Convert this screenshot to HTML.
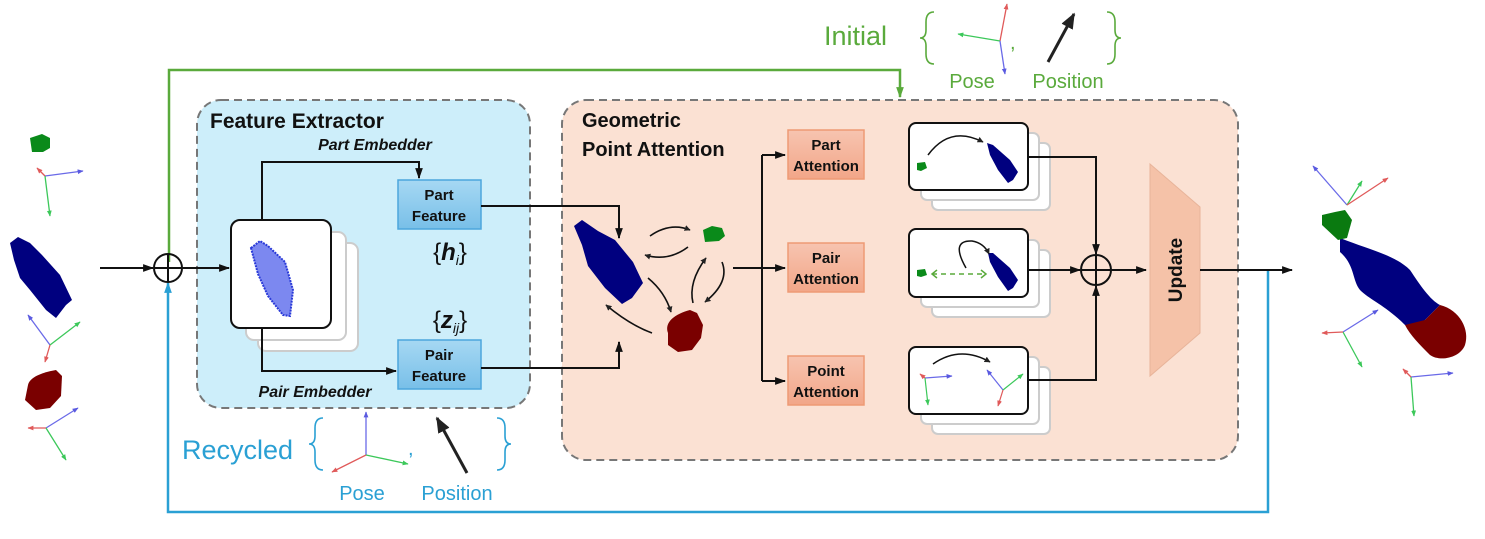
<!DOCTYPE html>
<html><head><meta charset="utf-8"><style>
html,body{margin:0;padding:0;background:#fff;}
svg{display:block;}
text{font-family:"Liberation Sans",Arial,sans-serif;}
</style></head><body>
<svg width="1485" height="539" viewBox="0 0 1485 539" xmlns="http://www.w3.org/2000/svg">
<defs>
<marker id="a" viewBox="0 0 10 10" refX="9" refY="5" markerUnits="userSpaceOnUse" markerWidth="11" markerHeight="11" orient="auto"><path d="M0,1.5 L10,5 L0,8.5 z" fill="#111"/></marker>
<marker id="ag" viewBox="0 0 10 10" refX="9" refY="5" markerUnits="userSpaceOnUse" markerWidth="11" markerHeight="11" orient="auto"><path d="M0,1.5 L10,5 L0,8.5 z" fill="#5aaa3c"/></marker>
<marker id="ab" viewBox="0 0 10 10" refX="9" refY="5" markerUnits="userSpaceOnUse" markerWidth="11" markerHeight="11" orient="auto"><path d="M0,1.5 L10,5 L0,8.5 z" fill="#2aa0d4"/></marker>
<marker id="ar" viewBox="0 0 10 10" refX="9" refY="5" markerUnits="userSpaceOnUse" markerWidth="6" markerHeight="6" orient="auto"><path d="M0,1 L10,5 L0,9 z" fill="#e05a5a"/></marker>
<marker id="agg" viewBox="0 0 10 10" refX="9" refY="5" markerUnits="userSpaceOnUse" markerWidth="6" markerHeight="6" orient="auto"><path d="M0,1 L10,5 L0,9 z" fill="#3cc85a"/></marker>
<marker id="abb" viewBox="0 0 10 10" refX="9" refY="5" markerUnits="userSpaceOnUse" markerWidth="6" markerHeight="6" orient="auto"><path d="M0,1 L10,5 L0,9 z" fill="#5a5ae0"/></marker>
<marker id="ak" viewBox="0 0 10 10" refX="9" refY="5" markerUnits="userSpaceOnUse" markerWidth="6" markerHeight="6" orient="auto"><path d="M0,0 L10,5 L0,10 z" fill="#222"/></marker>
<marker id="abig" viewBox="0 0 10 10" refX="9" refY="5" markerUnits="userSpaceOnUse" markerWidth="16" markerHeight="16" orient="auto"><path d="M0,1 L10,5 L0,9 z" fill="#222"/></marker>
<linearGradient id="bf" x1="0" y1="0" x2="0" y2="1"><stop offset="0" stop-color="#a6d8f3"/><stop offset="1" stop-color="#78bfe8"/></linearGradient>
<linearGradient id="of" x1="0" y1="0" x2="0" y2="1"><stop offset="0" stop-color="#f7c4b0"/><stop offset="1" stop-color="#f2a688"/></linearGradient>
</defs>

<rect x="197" y="100" width="333" height="308" rx="24" fill="#cdeefa" stroke="#777" stroke-width="2" stroke-dasharray="8,5"/>
<rect x="562" y="100" width="676" height="360" rx="24" fill="#fbe1d3" stroke="#777" stroke-width="2" stroke-dasharray="8,5"/>

<polyline points="169,262 169,70 900,70 900,97" fill="none" stroke="#5aaa3c" stroke-width="2.5" marker-end="url(#ag)"/>
<polyline points="1268,270 1268,512 168,512 168,283" fill="none" stroke="#2aa0d4" stroke-width="2.5" marker-end="url(#ab)"/>

<line x1="100" y1="268" x2="153" y2="268" stroke="#111" stroke-width="2" marker-end="url(#a)"/>
<circle cx="168" cy="268" r="14" fill="none" stroke="#111" stroke-width="2"/>
<line x1="154" y1="268" x2="182" y2="268" stroke="#111" stroke-width="2"/>
<line x1="168" y1="254" x2="168" y2="282" stroke="#111" stroke-width="2"/>
<line x1="182" y1="268" x2="229" y2="268" stroke="#111" stroke-width="2" marker-end="url(#a)"/>

<rect x="258" y="243" width="100" height="108" rx="8" fill="#fff" stroke="#ccc" stroke-width="2"/>
<rect x="246" y="232" width="100" height="108" rx="8" fill="#fff" stroke="#ccc" stroke-width="2"/>
<rect x="231" y="220" width="100" height="108" rx="9" fill="#fff" stroke="#111" stroke-width="2"/>
<path d="M251,248 L260,241 L268,246 L285,262 L293,290 L290,316 L283,315 L268,296 L258,274 Z" fill="#7c88f0" stroke="#2a3ad8" stroke-width="2" stroke-dasharray="2,1"/>
<polyline points="262,220 262,162 419,162 419,178" fill="none" stroke="#111" stroke-width="2" marker-end="url(#a)"/>
<polyline points="262,328 262,371 396,371" fill="none" stroke="#111" stroke-width="2" marker-end="url(#a)"/>
<text x="375" y="150" font-size="16" font-weight="bold" font-style="italic" text-anchor="middle" fill="#111">Part Embedder</text>
<text x="315" y="397" font-size="16" font-weight="bold" font-style="italic" text-anchor="middle" fill="#111">Pair Embedder</text>
<text x="210" y="128" font-size="21" font-weight="bold" fill="#111">Feature Extractor</text>

<rect x="398" y="180" width="83" height="49" fill="url(#bf)" stroke="#4da6dc" stroke-width="1.5"/>
<text x="439" y="200" font-size="15" font-weight="bold" text-anchor="middle" fill="#111">Part</text>
<text x="439" y="221" font-size="15" font-weight="bold" text-anchor="middle" fill="#111">Feature</text>
<rect x="398" y="340" width="83" height="49" fill="url(#bf)" stroke="#4da6dc" stroke-width="1.5"/>
<text x="439" y="360" font-size="15" font-weight="bold" text-anchor="middle" fill="#111">Pair</text>
<text x="439" y="381" font-size="15" font-weight="bold" text-anchor="middle" fill="#111">Feature</text>
<text x="450" y="260" font-size="24" text-anchor="middle" fill="#111" font-family="Liberation Serif,serif">{<tspan font-weight="bold" font-style="italic">h</tspan><tspan font-size="14" dy="5" font-style="italic">i</tspan><tspan dy="-5">}</tspan></text>
<text x="450" y="328" font-size="24" text-anchor="middle" fill="#111" font-family="Liberation Serif,serif">{<tspan font-weight="bold" font-style="italic">z</tspan><tspan font-size="14" dy="5" font-style="italic">ij</tspan><tspan dy="-5">}</tspan></text>

<polyline points="481,206 619,206 619,238" fill="none" stroke="#111" stroke-width="2" marker-end="url(#a)"/>
<polyline points="481,368 619,368 619,342" fill="none" stroke="#111" stroke-width="2" marker-end="url(#a)"/>

<text x="582" y="127" font-size="20" font-weight="bold" fill="#111">Geometric</text>
<text x="582" y="156" font-size="20" font-weight="bold" fill="#111">Point Attention</text>
<path d="M574,226 L582,220 L598,231 L615,240 L633,262 L643,283 L632,298 L622,304 L605,288 L588,266 L582,245 Z" fill="#00007f"/>
<path d="M703,230 L712,226 L722,228 L725,236 L719,241 L705,242 Z" fill="#0a8a1a"/>
<path d="M668,333 C664,322 675,314 690,310 L697,313 L703,325 L701,338 L692,350 L678,352 L668,345 Z" fill="#7a0000"/>
<g fill="none" stroke="#111" stroke-width="1.6" marker-end="url(#ak)">
<path d="M650,236 Q670,222 690,230"/>
<path d="M688,247 Q668,262 645,255"/>
<path d="M648,278 Q665,292 671,312"/>
<path d="M652,333 Q630,325 606,305"/>
<path d="M693,303 Q688,282 706,258"/>
<path d="M722,262 Q730,282 705,302"/>
</g>
<line x1="733" y1="268" x2="762" y2="268" stroke="#111" stroke-width="2"/>
<polyline points="762,155 762,381" fill="none" stroke="#111" stroke-width="2"/>
<line x1="762" y1="268" x2="785" y2="268" stroke="#111" stroke-width="2" marker-end="url(#a)"/>
<line x1="762" y1="381" x2="785" y2="381" stroke="#111" stroke-width="2" marker-end="url(#a)"/>
<line x1="762" y1="155" x2="785" y2="155" stroke="#111" stroke-width="2" marker-end="url(#a)"/>

<g font-size="15" font-weight="bold" text-anchor="middle" fill="#111">
<rect x="788" y="130" width="76" height="49" fill="url(#of)" stroke="#ee9a75" stroke-width="1.5"/>
<text x="826" y="150">Part</text><text x="826" y="171">Attention</text>
<rect x="788" y="243" width="76" height="49" fill="url(#of)" stroke="#ee9a75" stroke-width="1.5"/>
<text x="826" y="263">Pair</text><text x="826" y="284">Attention</text>
<rect x="788" y="356" width="76" height="49" fill="url(#of)" stroke="#ee9a75" stroke-width="1.5"/>
<text x="826" y="376">Point</text><text x="826" y="397">Attention</text>
</g>

<g stroke-width="2">
<rect x="932" y="143" width="118" height="67" rx="6" fill="#fff" stroke="#ccc"/>
<rect x="921" y="133" width="118" height="67" rx="6" fill="#fff" stroke="#ccc"/>
<rect x="909" y="123" width="119" height="67" rx="7" fill="#fff" stroke="#111"/>
<rect x="932" y="250" width="118" height="67" rx="6" fill="#fff" stroke="#ccc"/>
<rect x="921" y="240" width="118" height="67" rx="6" fill="#fff" stroke="#ccc"/>
<rect x="909" y="229" width="119" height="68" rx="7" fill="#fff" stroke="#111"/>
<rect x="932" y="367" width="118" height="67" rx="6" fill="#fff" stroke="#ccc"/>
<rect x="921" y="357" width="118" height="67" rx="6" fill="#fff" stroke="#ccc"/>
<rect x="909" y="347" width="119" height="67" rx="7" fill="#fff" stroke="#111"/>
</g>
<path d="M917,163 L925,162 L927,168 L921,171 L917,170 Z" fill="#0a8a1a"/>
<path d="M987,143 L993,145 L1010,160 L1018,172 L1013,180 L1008,183 L998,170 L990,155 Z" fill="#00007f"/>
<path d="M928,155 Q950,125 983,142" fill="none" stroke="#111" stroke-width="1.5" marker-end="url(#ak)"/>
<path d="M917,270 L925,269 L927,275 L921,277 L917,276 Z" fill="#0a8a1a"/>
<path d="M988,253 L993,253 L1010,268 L1018,280 L1013,288 L1008,291 L998,277 L990,262 Z" fill="#00007f"/>
<path d="M966,268 Q950,240 972,241 Q984,243 989,254" fill="none" stroke="#111" stroke-width="1.5" marker-end="url(#ak)"/>
<line x1="932" y1="274" x2="986" y2="274" stroke="#5aaa3c" stroke-width="1.5" stroke-dasharray="5,4"/>
<path d="M937,270 L932,274 L937,278 M981,270 L986,274 L981,278" fill="none" stroke="#5aaa3c" stroke-width="1.5"/>
<path d="M933,364 Q960,345 990,362" fill="none" stroke="#111" stroke-width="1.5" marker-end="url(#ak)"/>
<g stroke-width="1.2">
<line x1="925" y1="378" x2="952" y2="376" stroke="#6a6ae8" marker-end="url(#abb)"/>
<line x1="925" y1="378" x2="928" y2="405" stroke="#3cc85a" marker-end="url(#agg)"/>
<line x1="925" y1="378" x2="920" y2="374" stroke="#e05a5a" marker-end="url(#ar)"/>
<line x1="1003" y1="390" x2="987" y2="370" stroke="#6a6ae8" marker-end="url(#abb)"/>
<line x1="1003" y1="390" x2="1023" y2="374" stroke="#3cc85a" marker-end="url(#agg)"/>
<line x1="1003" y1="390" x2="998" y2="406" stroke="#e05a5a" marker-end="url(#ar)"/>
</g>

<polyline points="1028,157 1096,157 1096,254" fill="none" stroke="#111" stroke-width="2" marker-end="url(#a)"/>
<polyline points="1028,380 1096,380 1096,286" fill="none" stroke="#111" stroke-width="2" marker-end="url(#a)"/>
<line x1="1028" y1="270" x2="1080" y2="270" stroke="#111" stroke-width="2" marker-end="url(#a)"/>
<circle cx="1096" cy="270" r="15" fill="none" stroke="#111" stroke-width="2"/>
<line x1="1081" y1="270" x2="1111" y2="270" stroke="#111" stroke-width="2"/>
<line x1="1096" y1="255" x2="1096" y2="285" stroke="#111" stroke-width="2"/>
<line x1="1111" y1="270" x2="1146" y2="270" stroke="#111" stroke-width="2" marker-end="url(#a)"/>
<polygon points="1150,164 1200,207 1200,333 1150,376" fill="#f5c2a8" stroke="#e8b49a" stroke-width="1"/>
<text x="0" y="0" font-size="19" font-weight="bold" text-anchor="middle" fill="#111" transform="translate(1182,270) rotate(-90)">Update</text>
<line x1="1200" y1="270" x2="1292" y2="270" stroke="#111" stroke-width="2" marker-end="url(#a)"/>

<!-- Initial -->
<text x="824" y="45" font-size="27" fill="#5aaa3c">Initial</text>
<path d="M934,12 Q926,12 926,22 L926,30 Q926,38 920,38 Q926,38 926,46 L926,54 Q926,64 934,64" fill="none" stroke="#5aaa3c" stroke-width="1.6"/>
<path d="M1107,12 Q1115,12 1115,22 L1115,30 Q1115,38 1121,38 Q1115,38 1115,46 L1115,54 Q1115,64 1107,64" fill="none" stroke="#5aaa3c" stroke-width="1.6"/>
<g stroke-width="1.3">
<line x1="1000" y1="41" x2="1007" y2="4" stroke="#e05a5a" marker-end="url(#ar)"/>
<line x1="1000" y1="41" x2="958" y2="34" stroke="#3cc85a" marker-end="url(#agg)"/>
<line x1="1000" y1="41" x2="1005" y2="74" stroke="#6a6ae8" marker-end="url(#abb)"/>
</g>
<text x="1010" y="49" font-size="20" fill="#5aaa3c">,</text>
<line x1="1048" y1="62" x2="1074" y2="14" stroke="#222" stroke-width="3" marker-end="url(#abig)"/>
<text x="972" y="88" font-size="20" fill="#5aaa3c" text-anchor="middle">Pose</text>
<text x="1068" y="88" font-size="20" fill="#5aaa3c" text-anchor="middle">Position</text>

<!-- Recycled -->
<text x="182" y="459" font-size="27" fill="#2aa0d4">Recycled</text>
<path d="M323,418 Q315,418 315,428 L315,436 Q315,444 309,444 Q315,444 315,452 L315,460 Q315,470 323,470" fill="none" stroke="#2aa0d4" stroke-width="1.6"/>
<path d="M497,418 Q505,418 505,428 L505,436 Q505,444 511,444 Q505,444 505,452 L505,460 Q505,470 497,470" fill="none" stroke="#2aa0d4" stroke-width="1.6"/>
<g stroke-width="1.3">
<line x1="366" y1="455" x2="366" y2="412" stroke="#6a6ae8" marker-end="url(#abb)"/>
<line x1="366" y1="455" x2="408" y2="464" stroke="#3cc85a" marker-end="url(#agg)"/>
<line x1="366" y1="455" x2="332" y2="472" stroke="#e05a5a" marker-end="url(#ar)"/>
</g>
<text x="408" y="455" font-size="20" fill="#2aa0d4">,</text>
<line x1="467" y1="473" x2="437" y2="418" stroke="#222" stroke-width="3" marker-end="url(#abig)"/>
<text x="362" y="500" font-size="20" fill="#2aa0d4" text-anchor="middle">Pose</text>
<text x="457" y="500" font-size="20" fill="#2aa0d4" text-anchor="middle">Position</text>

<!-- left inputs -->
<path d="M30,138 L42,134 L50,138 L50,148 L43,152 L32,152 Z" fill="#0a8a1a"/>
<g stroke-width="1.3">
<line x1="45" y1="176" x2="83" y2="171" stroke="#6a6ae8" marker-end="url(#abb)"/>
<line x1="45" y1="176" x2="50" y2="216" stroke="#3cc85a" marker-end="url(#agg)"/>
<line x1="45" y1="176" x2="37" y2="168" stroke="#e05a5a" marker-end="url(#ar)"/>
</g>
<path d="M10,243 L18,237 L30,243 L42,255 L60,275 L72,300 L66,305 L56,318 L46,310 L30,290 L20,278 L14,260 Z" fill="#00007f"/>
<g stroke-width="1.3">
<line x1="50" y1="345" x2="28" y2="315" stroke="#6a6ae8" marker-end="url(#abb)"/>
<line x1="50" y1="345" x2="80" y2="322" stroke="#3cc85a" marker-end="url(#agg)"/>
<line x1="50" y1="345" x2="45" y2="362" stroke="#e05a5a" marker-end="url(#ar)"/>
</g>
<path d="M28,385 C30,376 45,372 56,370 L62,376 L61,396 L50,408 L36,410 L25,400 Z" fill="#7a0000"/>
<g stroke-width="1.3">
<line x1="46" y1="428" x2="78" y2="408" stroke="#6a6ae8" marker-end="url(#abb)"/>
<line x1="46" y1="428" x2="66" y2="460" stroke="#3cc85a" marker-end="url(#agg)"/>
<line x1="46" y1="428" x2="28" y2="428" stroke="#e05a5a" marker-end="url(#ar)"/>
</g>

<!-- output -->
<g stroke-width="1.3">
<line x1="1347" y1="205" x2="1313" y2="166" stroke="#6a6ae8" marker-end="url(#abb)"/>
<line x1="1347" y1="205" x2="1362" y2="181" stroke="#3cc85a" marker-end="url(#agg)"/>
<line x1="1347" y1="205" x2="1388" y2="178" stroke="#e05a5a" marker-end="url(#ar)"/>
</g>
<path d="M1340,238 C1370,250 1395,255 1410,270 C1420,285 1430,300 1440,305 L1425,320 C1420,325 1410,325 1405,325 C1385,305 1370,300 1360,290 C1352,280 1355,265 1340,252 Z" fill="#00007f"/>
<path d="M1335,212 L1345,210 L1352,220 L1347,238 L1338,240 L1322,225 L1322,215 Z" fill="#0a7a10"/>
<path d="M1440,305 C1460,310 1470,330 1465,345 C1460,358 1440,362 1430,355 C1420,345 1410,335 1405,325 L1425,320 Z" fill="#7a0000"/>
<g stroke-width="1.3">
<line x1="1343" y1="332" x2="1378" y2="310" stroke="#6a6ae8" marker-end="url(#abb)"/>
<line x1="1343" y1="332" x2="1362" y2="367" stroke="#3cc85a" marker-end="url(#agg)"/>
<line x1="1343" y1="332" x2="1322" y2="333" stroke="#e05a5a" marker-end="url(#ar)"/>
<line x1="1411" y1="377" x2="1453" y2="373" stroke="#6a6ae8" marker-end="url(#abb)"/>
<line x1="1411" y1="377" x2="1414" y2="416" stroke="#3cc85a" marker-end="url(#agg)"/>
<line x1="1411" y1="377" x2="1403" y2="369" stroke="#e05a5a" marker-end="url(#ar)"/>
</g>
</svg>
</body></html>
